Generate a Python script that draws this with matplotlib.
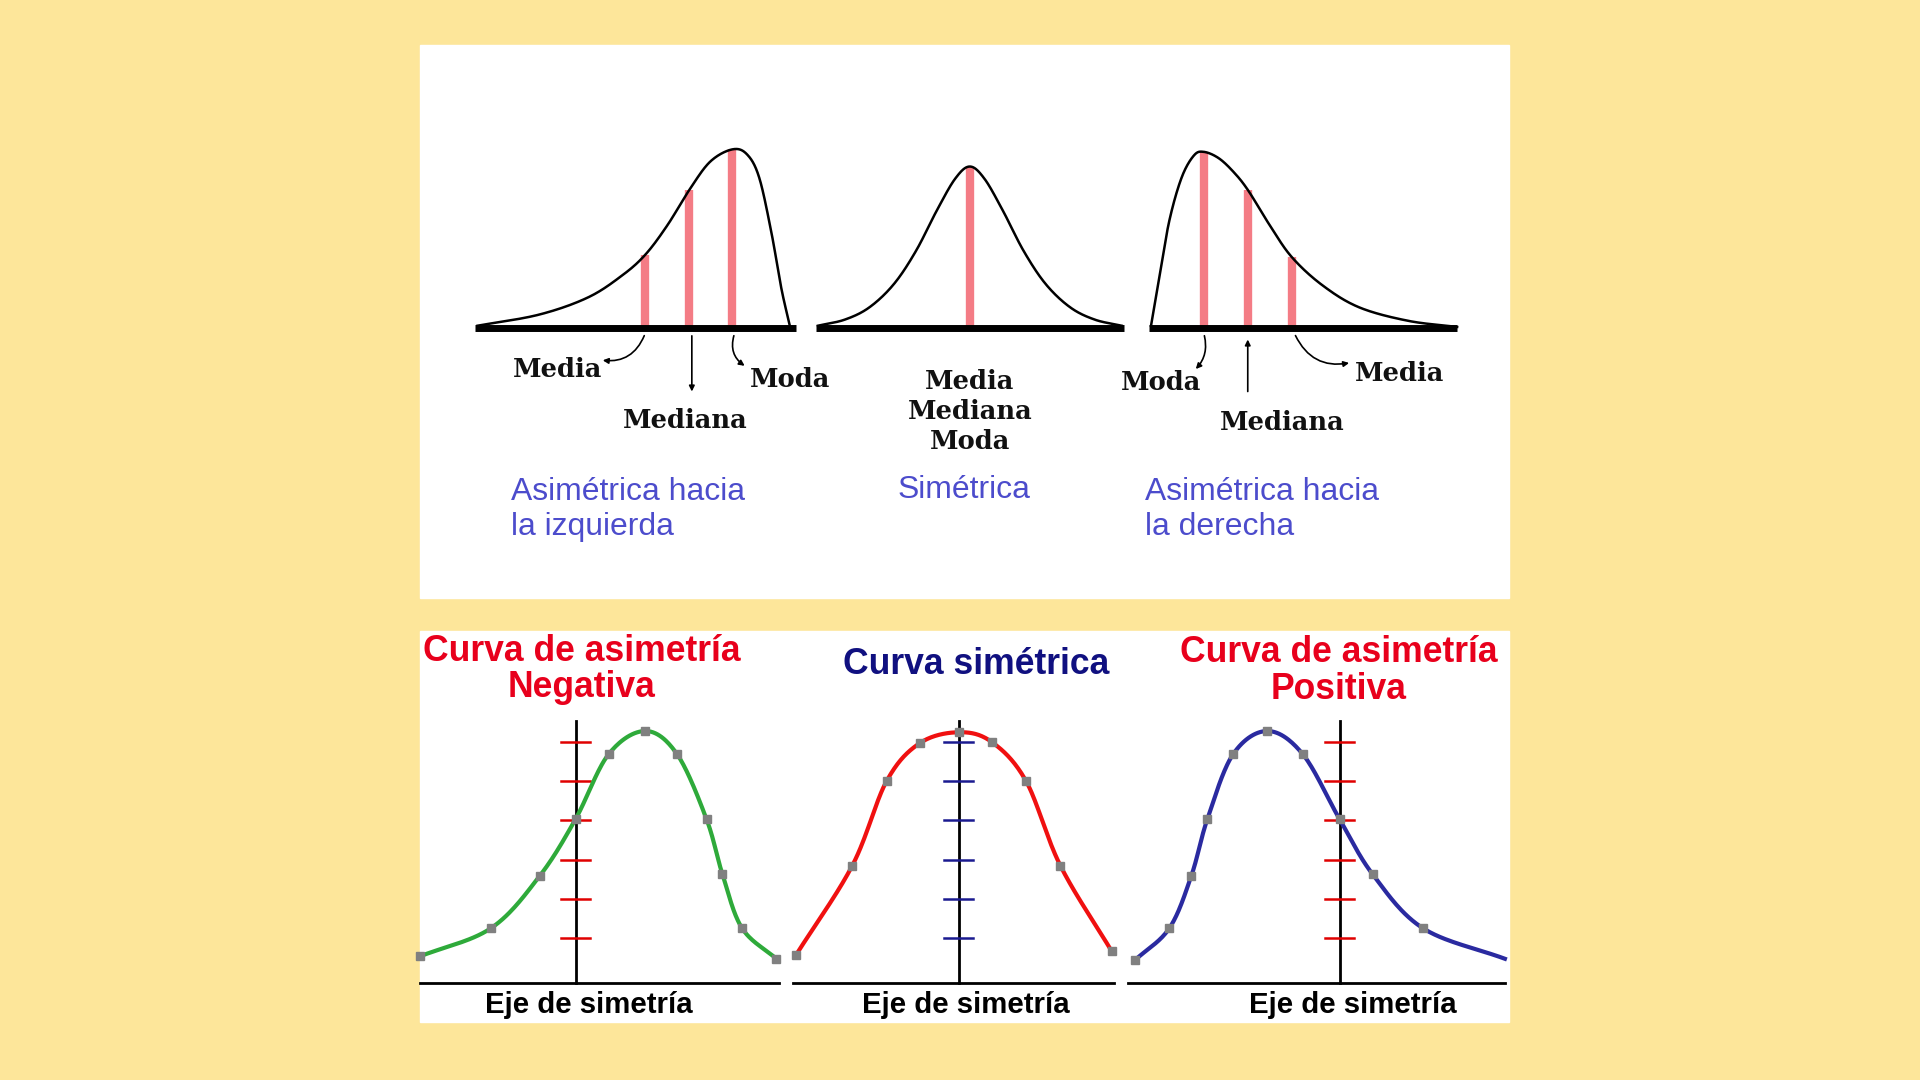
import numpy as np
import matplotlib
matplotlib.use("Agg")
import matplotlib.pyplot as plt
from matplotlib.patches import Rectangle

# ---------------- data (reference coordinates, 1568x882 canvas) ----------------
W, H = 1568, 882
BG = "#FDE69A"
PINK = "#F47C85"
BLUE_TXT = "#4C4CCC"

# top panel curves
left_skew = [(390,266),(440,257),(480,243),(508,225),(527,208),(545,184),(563,155),(580,132),(598,122),(610,126),(620,145),(630,190),(638,235),(645,266)]
symmetric = [(668,266),(690,261),(710,251),(730,232),(748,205),(765,172),(780,146),(792,136),(804,146),(819,172),(836,205),(854,232),(874,251),(894,261),(916,266)]
right_skew = [(940,266),(947,225),(955,180),(965,145),(975,127),(983,124),(995,129),(1007,140),(1019,155),(1037,184),(1055,210),(1080,233),(1110,251),(1150,262),(1190,267)]
left_lines = [(527,208),(563,155),(598,122)]
sym_lines = [(792,136)]
right_lines = [(983,124),(1019,155),(1055,210)]

# bottom panel curves (gray square markers)
green_pts = [(343,781),(401,758),(441,715),(470,669),(497,616),(527,597),(553,616),(577,669),(590,714),(606,758),(634,783)]
red_pts = [(650,780),(696,707),(724,638),(751,607),(783,598),(810,606),(838,638),(866,707),(908,777)]
blue_pts = [(927,784),(955,758),(973,715),(986,669),(1007,616),(1035,597),(1064,616),(1094,669),(1121,714),(1162,758),(1229,783)]
tick_ys = [606,638,670,702,734,766]


def smooth(pts, n=30):
    p = np.array(pts, float)
    p = np.vstack([2*p[0]-p[1], p, 2*p[-1]-p[-2]])
    out = []
    t = np.linspace(0, 1, n, endpoint=False)[:, None]
    for i in range(1, len(p)-2):
        p0, p1, p2, p3 = p[i-1], p[i], p[i+1], p[i+2]
        c = 0.5*((2*p1) + (-p0+p2)*t + (2*p0-5*p1+4*p2-p3)*t**2 + (-p0+3*p1-3*p2+p3)*t**3)
        out.append(c)
    out.append(p[-2][None, :])
    return np.vstack(out)


fig = plt.figure(figsize=(19.2, 10.8), dpi=100, facecolor=BG)
ax = fig.add_axes([0, 0, 1, 1])
ax.set_xlim(0, W); ax.set_ylim(H, 0); ax.axis("off")
ax.set_facecolor(BG)

ax.add_patch(Rectangle((343, 37), 889, 451, color="white", zorder=0))
ax.add_patch(Rectangle((343, 515), 889, 320, color="white", zorder=0))

S = 1.2245 * 0.72  # display px -> pt

# ---------- top panel ----------
for curve, lines, (x0, x1) in [(left_skew, left_lines, (388, 650)),
                               (symmetric, sym_lines, (666, 918)),
                               (right_skew, right_lines, (938, 1190))]:
    c = smooth(curve)
    ax.plot(c[:, 0], c[:, 1], color="black", lw=1.8, zorder=3)
    for x, y in lines:
        ax.plot([x, x], [268, y], color=PINK, lw=6, solid_capstyle="butt", zorder=2)
    ax.plot([x0, x1], [268, 268], color="black", lw=5, solid_capstyle="butt", zorder=4)

serif = dict(family="DejaVu Serif", fontweight="bold", fontsize=21*S, color="#111111")
ax.text(455, 302, "Media", ha="center", va="center", **serif)
ax.text(560, 343, "Mediana", ha="center", va="center", **serif)
ax.text(645, 310, "Moda", ha="center", va="center", **serif)
ax.text(792, 336, "Media\nMediana\nModa", ha="center", va="center", linespacing=1.25, **serif)
ax.text(948, 312, "Moda", ha="center", va="center", **serif)
ax.text(1047, 345, "Mediana", ha="center", va="center", **serif)
ax.text(1143, 305, "Media", ha="center", va="center", **serif)

arr = dict(arrowstyle="-|>", color="black", lw=1.2, mutation_scale=8)
ax.annotate("", xy=(490, 294), xytext=(527, 272), arrowprops=dict(connectionstyle="arc3,rad=-0.4", **arr))
ax.annotate("", xy=(565, 322), xytext=(565, 272), arrowprops=arr)
ax.annotate("", xy=(610, 300), xytext=(600, 272), arrowprops=dict(connectionstyle="arc3,rad=0.4", **arr))
ax.annotate("", xy=(975, 303), xytext=(983, 272), arrowprops=dict(connectionstyle="arc3,rad=-0.3", **arr))
ax.annotate("", xy=(1019, 275), xytext=(1019, 322), arrowprops=arr)
ax.annotate("", xy=(1104, 296), xytext=(1057, 272), arrowprops=dict(connectionstyle="arc3,rad=0.4", **arr))

sans = dict(family="Liberation Sans", fontsize=26*S, color=BLUE_TXT)
ax.text(417, 416, "Asimétrica hacia\nla izquierda", ha="left", va="center", linespacing=1.2, **sans)
ax.text(733, 400, "Simétrica", ha="left", va="center", **sans)
ax.text(935, 416, "Asimétrica hacia\nla derecha", ha="left", va="center", linespacing=1.2, **sans)

# ---------- bottom panel ----------
title = dict(family="Liberation Sans", fontweight="bold", fontsize=29*S)
ax.text(475, 547, "Curva de asimetría\nNegativa", ha="center", va="center", color="#E8001C", linespacing=1.05, **title)
ax.text(797, 543, "Curva simétrica", ha="center", va="center", color="#101080", **title)
ax.text(1093, 548, "Curva de asimetría\nPositiva", ha="center", va="center", color="#E8001C", linespacing=1.05, **title)

for (x0, x1), ax_x, tcol in [((343, 636), 470, "#E00000"), ((648, 910), 783, "#1A1A90"), ((921, 1229), 1094, "#E00000")]:
    ax.plot([x0, x1], [803, 803], color="black", lw=2, zorder=2)
    ax.plot([ax_x, ax_x], [589, 803], color="black", lw=2, zorder=2)
    for ty in tick_ys:
        ax.plot([ax_x-12, ax_x+12], [ty, ty], color=tcol, lw=1.8, zorder=2)

for pts, col, mk in [(green_pts, "#2EAA3A", green_pts), (red_pts, "#F01010", red_pts), (blue_pts, "#2A2AA0", blue_pts[:-1])]:
    c = smooth(pts)
    ax.plot(c[:, 0], c[:, 1], color=col, lw=3, zorder=3)
    m = np.array(mk)
    ax.plot(m[:, 0], m[:, 1], ls="none", marker="s", ms=6, color="#808080", zorder=4)

eje = dict(family="Liberation Sans", fontweight="bold", fontsize=24*S, color="black")
ax.text(481, 821, "Eje de simetría", ha="center", va="center", **eje)
ax.text(789, 821, "Eje de simetría", ha="center", va="center", **eje)
ax.text(1105, 821, "Eje de simetría", ha="center", va="center", **eje)

fig.savefig("out.png", dpi=100, facecolor=BG)
